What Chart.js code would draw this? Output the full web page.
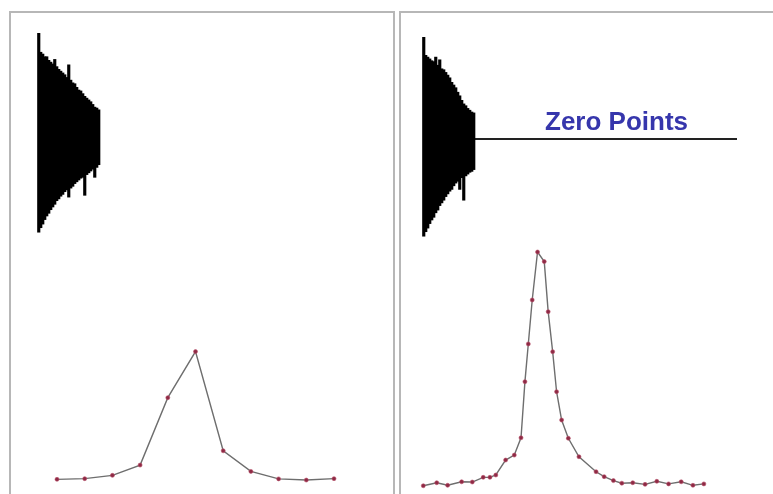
<!DOCTYPE html>
<html>
<head>
<meta charset="utf-8">
<script src="https://cdn.jsdelivr.net/npm/chart.js@4/dist/chart.umd.min.js"></script>
<style>
  html, body { margin: 0; padding: 0; background: #fff; overflow: hidden; }
  .panel {
    position: absolute;
    top: 11px;
    height: 500px;
    box-sizing: border-box;
    border: 2px solid #b7b7b7;
    background: #fff;
  }
  #panelA { left: 9px; width: 386px; }
  #panelB { left: 399px; width: 400px; }
  .panel .box { position: relative; width: 100%; height: 100%; }
  .zero-label {
    position: absolute;
    left: 545px;
    top: 108px;
    font: bold 26px "Liberation Sans", Arial, sans-serif;
    line-height: 26px;
    color: #3636ac;
    white-space: nowrap;
  }
</style>
</head>
<body>
<div class="panel" id="panelA"><div class="box"><canvas id="chartA"></canvas></div></div>
<div class="panel" id="panelB"><div class="box"><canvas id="chartB"></canvas></div></div>
<div class="zero-label">Zero Points</div>

<script>
// FID envelope (normalised amplitude), one bar per acquired point
const fidTopA = [1.18, 0.97, 0.95, 0.92, 0.92, 0.88, 0.86, 0.84, 0.89, 0.81, 0.78, 0.76, 0.74, 0.72, 0.69, 0.83,
  0.66, 0.63, 0.62, 0.58, 0.55, 0.54, 0.51, 0.48, 0.46, 0.44, 0.42, 0.39, 0.36, 0.35, 0.33];
const fidBottomA = [-1.03, -0.98, -0.94, -0.89, -0.85, -0.82, -0.78, -0.75, -0.72, -0.68, -0.66, -0.63, -0.61, -0.58, -0.56, -0.64,
  -0.54, -0.52, -0.49, -0.47, -0.45, -0.43, -0.42, -0.62, -0.39, -0.37, -0.35, -0.33, -0.42, -0.31, -0.28];

// spectrum without zero filling: 11 points
const specA = [0.7, 1.0, 2.4, 6.8, 35.6, 55.3, 12.9, 4.1, 0.9, 0.4, 1.0];

// second FID, followed by zero filling
const fidTopB = [1.13, 0.93, 0.91, 0.89, 0.87, 0.86, 0.91, 0.82, 0.88, 0.78, 0.77, 0.74, 0.71,
  0.68, 0.63, 0.60, 0.57, 0.52, 0.48, 0.43, 0.39, 0.37, 0.34, 0.32, 0.30, 0.29];
const fidBottomB = [-1.08, -1.03, -0.99, -0.94, -0.90, -0.87, -0.82, -0.79, -0.74, -0.71, -0.68, -0.64, -0.61,
  -0.58, -0.56, -0.52, -0.49, -0.47, -0.56, -0.43, -0.68, -0.41, -0.39, -0.37, -0.36, -0.34];
const zeroFillEnd = 156;

// spectrum after zero filling: frequency and intensity
const specFreqB = [0, 0.48, 0.87, 1.37, 1.75, 2.14, 2.38, 2.59, 2.94, 3.25, 3.49, 3.63, 3.75, 3.89, 4.08, 4.32,
  4.46, 4.62, 4.76, 4.94, 5.18, 5.56, 6.17, 6.46, 6.79, 7.09, 7.48, 7.92, 8.34, 8.76, 9.21, 9.63, 10.02];
const specB = [0.1, 1.4, 0.3, 1.8, 1.7, 3.7, 3.7, 4.7, 11.1, 13.2, 20.6, 44.6, 60.7, 79.5, 100, 95.9,
  74.5, 57.4, 40.3, 28.2, 20.4, 12.5, 6.1, 4.0, 2.3, 1.2, 1.4, 0.7, 2.0, 0.9, 1.8, 0.3, 0.9];

const LINE = "#6e6e6e";
const DOT = "#8e2a45";

function fidBars(top, bottom) {
  return top.map((t, i) => ({ x: i, y: [bottom[i], t] }));
}

function hidden(min, max) {
  return { type: "linear", display: false, offset: false, min: min, max: max };
}

function makeChart(id, fid, spectrum, ranges, extra) {
  const datasets = [
    {
      type: "bar",
      data: fid,
      xAxisID: "xt",
      yAxisID: "ya",
      backgroundColor: "#000",
      borderWidth: 0,
      barThickness: 2.5
    },
    {
      type: "line",
      data: spectrum,
      xAxisID: "xf",
      yAxisID: "yi",
      borderColor: LINE,
      borderWidth: 1.4,
      tension: 0,
      pointRadius: 2,
      pointBackgroundColor: DOT,
      pointBorderColor: "#b8506a",
      pointBorderWidth: 0.6
    }
  ].concat(extra || []);

  return new Chart(document.getElementById(id), {
    type: "bar",
    data: { datasets },
    options: {
      responsive: true,
      maintainAspectRatio: false,
      animation: false,
      layout: { padding: 0, autoPadding: false },
      plugins: { legend: { display: false }, tooltip: { enabled: false } },
      scales: {
        xt: hidden(ranges.xt[0], ranges.xt[1]),
        ya: hidden(ranges.ya[0], ranges.ya[1]),
        xf: hidden(ranges.xf[0], ranges.xf[1]),
        yi: hidden(ranges.yi[0], ranges.yi[1])
      }
    }
  });
}

makeChart("chartA",
  fidBars(fidTopA, fidBottomA),
  specA.map((v, i) => ({ x: i, y: v })),
  { xt: [-14.5, 176.5], ya: [-4.106, 1.406], xf: [-1.661, 12.13], yi: [-11.97, 200] }
);

makeChart("chartB",
  fidBars(fidTopB, fidBottomB),
  specB.map((v, i) => ({ x: specFreqB[i], y: v })),
  { xt: [-12, 186], ya: [-4.111, 1.4], xf: [-0.796, 13.346], yi: [-9.83, 202.14] },
  [{
    type: "line",
    data: [{ x: fidTopB.length - 1, y: 0 }, { x: zeroFillEnd, y: 0 }],
    xAxisID: "xt",
    yAxisID: "ya",
    borderColor: "#222",
    borderWidth: 2,
    pointRadius: 0
  }]
);
</script>
</body>
</html>
